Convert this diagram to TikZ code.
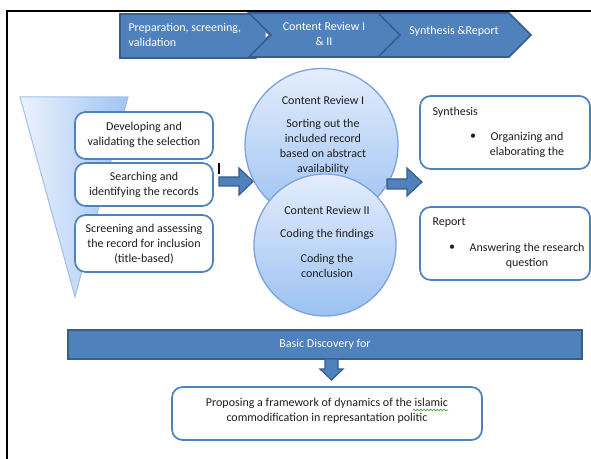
\documentclass[tikz,border=0pt]{standalone}
\usepackage{fontspec}
\setmainfont{Carlito}
\usetikzlibrary{decorations.pathmorphing}

\tikzset{every picture/.style={line width=0.75pt}}

\begin{document}
\begin{tikzpicture}[x=0.75pt,y=0.75pt,yscale=-1,xscale=1,
	stage/.style={draw={rgb, 255:red, 56; green, 93; blue, 138}, fill={rgb, 255:red, 79; green, 129; blue, 189}, line width=1.2},
	panel/.style={draw={rgb, 255:red, 79; green, 129; blue, 189}, fill=white, line width=1.3, rounded corners=8},
	bubble/.style={draw={rgb, 255:red, 126; green, 163; blue, 218}, top color={rgb, 255:red, 228; green, 237; blue, 253}, bottom color={rgb, 255:red, 155; green, 194; blue, 242}, line width=1},
	txt/.style={font=\fontsize{9}{11.25}\selectfont, text={rgb, 255:red, 30; green, 30; blue, 30}, align=center, inner sep=0},
	wtxt/.style={txt, text=white}]
	\useasboundingbox (0,0) rectangle (591,459);

	%Straight Lines [frame]
	\draw [line width=1.5]  (7,459) -- (7,11.5) -- (591,11.5) ;

	%Shape: Chevron [stage one]
	\draw [stage]  (120,14) -- (256,14) -- (278,36) -- (256,58) -- (120,58) -- cycle ;
	%Shape: Chevron [stage two]
	\draw [stage]  (249,13) -- (380,13) -- (403,35) -- (380,57) -- (249,57) -- (271,35) -- cycle ;
	%Shape: Chevron [stage three]
	\draw [stage]  (378,13) -- (509,13) -- (531,35) -- (509,57) -- (378,57) -- (400,35) -- cycle ;
	\fill [white]  (265.5,32.5) -- (268.5,35) -- (265.5,37.5) -- cycle ;

	% Text Node
	\draw (128,35) node (prep) [wtxt, anchor=west, align=left] {Preparation, screening,\\validation};
	% Text Node
	\draw (324,34) node (review) [wtxt] {Content Review I\\\& II};
	% Text Node
	\draw (454,31) node (synrep) [wtxt] {Synthesis \&Report};

	%Shape: Triangle [funnel]
	\draw [draw={rgb, 255:red, 160; green, 192; blue, 235}, left color={rgb, 255:red, 236; green, 242; blue, 253}, right color={rgb, 255:red, 160; green, 196; blue, 242}]  (20,97) -- (128,97) -- (75,297) -- cycle ;

	%Rounded Rect [steps]
	\draw [panel]  (75,112) rectangle (213,159) ;
	\draw [panel]  (75,163) rectangle (213,206) ;
	\draw [panel]  (75,215) rectangle (213,272) ;

	% Text Node
	\draw (144,134.5) node (develop) [txt] {Developing and\\validating the selection};
	% Text Node
	\draw (144,185) node (search) [txt] {Searching and\\identifying the records};
	% Text Node
	\draw (144,244.5) node (screen) [txt] {Screening and assessing\\the record for inclusion\\(title-based)};

	%Straight Lines [cursor]
	\draw [line width=1.2]  (219,163) -- (219,174) ;
	%Shape: Right Arrow
	\draw [stage, line width=0.9]  (219,177) -- (239,177) -- (239,168) -- (253,181.5) -- (239,195) -- (239,186) -- (219,186) -- cycle ;

	%Shape: Circle [review one]
	\draw [bubble]  (321.5,145) circle [radius=76.5] ;
	%Shape: Circle [review two]
	\draw [bubble]  (325,245) circle [radius=71] ;

	% Text Node
	\draw (323,100) node (revonehead) [txt] {Content Review I};
	% Text Node
	\draw (323,147) node (revonebody) [txt] {Sorting out the\\included record\\based on abstract\\availability};
	% Text Node
	\draw (327,210) node (revtwohead) [txt] {Content Review II};
	% Text Node
	\draw (327,234) node (findings) [txt] {Coding the findings};
	% Text Node
	\draw (327,266) node (conclusion) [txt] {Coding the\\conclusion};

	%Shape: Right Arrow
	\draw [stage, line width=0.9]  (387,179) -- (407,179) -- (407,168) -- (422,182) -- (407,196) -- (407,189) -- (387,189) -- cycle ;

	%Rounded Rect [synthesis]
	\draw [panel]  (420,96) rectangle (590,169) ;
	%Rounded Rect [report]
	\draw [panel]  (420,207) rectangle (590,280) ;

	% Text Node
	\draw (432,112) node (synhead) [txt, anchor=west] {Synthesis};
	\draw (473,137) node (synbullet) [txt] {\textbullet};
	\draw (527,144.5) node (synitem) [txt] {Organizing and\\elaborating the};
	% Text Node
	\draw (432,223) node (rephead) [txt, anchor=west] {Report};
	\draw (452,248) node (repbullet) [txt] {\textbullet};
	\draw (527,255.5) node (repitem) [txt] {Answering the research\\question};

	%Shape: Rectangle [discovery bar]
	\draw [stage]  (68,330) rectangle (582,359) ;
	% Text Node
	\draw (325,344) node (discovery) [wtxt] {Basic Discovery for};

	%Shape: Down Arrow
	\draw [stage, line width=0.9]  (325,359) -- (338,359) -- (338,369) -- (343,369) -- (331.5,380) -- (320,369) -- (325,369) -- cycle ;

	%Rounded Rect [framework]
	\draw [panel]  (172,387) rectangle (482,440) ;
	% Text Node
	\draw (327,411) node (framework) [txt] {Proposing a framework of dynamics of the islamic\\commodification in represantation politic};
	\draw [color={rgb, 255:red, 60; green, 160; blue, 60}, line width=0.5, decorate, decoration={snake, amplitude=0.6, segment length=2.5}]  (413,410) -- (448,410) ;

\end{tikzpicture}
\end{document}
